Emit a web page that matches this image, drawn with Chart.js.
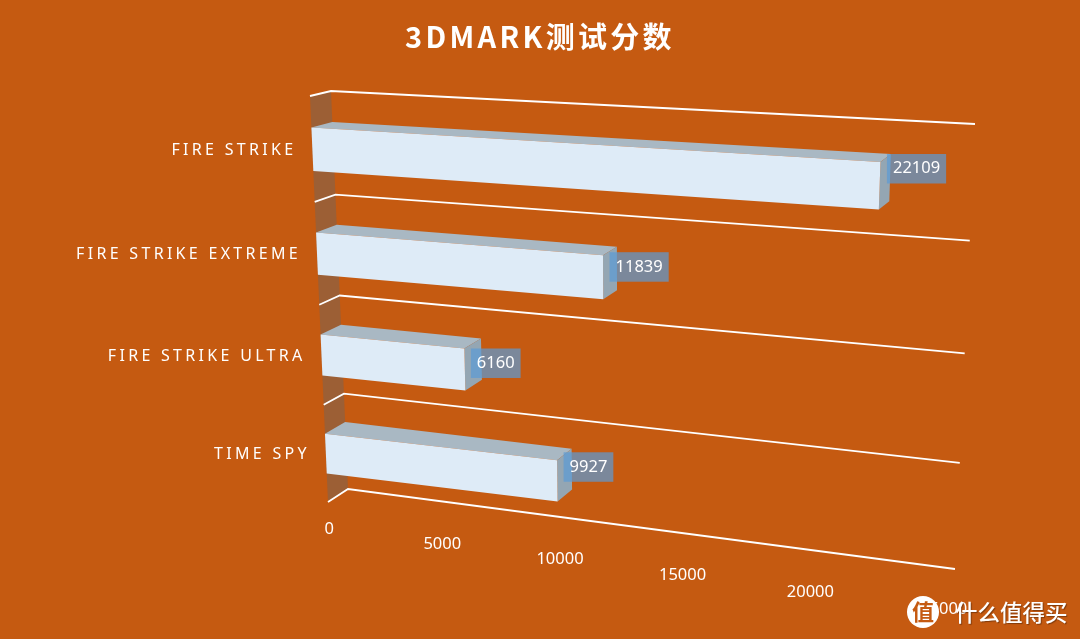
<!DOCTYPE html>
<html>
<head>
  <meta charset="UTF-8">
  <title>3DMARK测试分数</title>
  <script src="https://cdn.jsdelivr.net/npm/chart.js"></script>
  <style>
    html, body { margin: 0; background: #C55A11; overflow: hidden; }
    canvas { display: block; }
  </style>
</head>
<body>
  <canvas id="barChart" width="1080" height="639"></canvas>

  <script>
    const chartTitle = '3DMARK测试分数';
    const categories = ['FIRE STRIKE', 'FIRE STRIKE EXTREME', 'FIRE STRIKE ULTRA', 'TIME SPY'];
    const scores = [22109, 11839, 6160, 9927];
    const axisMax = 25000;
    const axisStep = 5000;

    const white = '#FFFFFF';
    const labelFont = '"Noto Sans", sans-serif';
    // how far each value box sits above the bar's front top corner
    const labelNudge = [-8, -3, 0, -8];

    // the flat plot area is pushed through two perspective planes (front and back of the box)
    const frontPlane = makeHomography([[310, 96], [965, 132], [945, 580], [328, 502]]);
    const backPlane = makeHomography([[331, 91], [975, 124], [955, 569], [348, 489]]);

    function makeHomography(q) {
      const [[x0, y0], [x1, y1], [x2, y2], [x3, y3]] = q;
      const dx1 = x1 - x2, dx2 = x3 - x2, sx = x0 - x1 + x2 - x3;
      const dy1 = y1 - y2, dy2 = y3 - y2, sy = y0 - y1 + y2 - y3;
      const den = dx1 * dy2 - dx2 * dy1;
      const g = (sx * dy2 - dx2 * sy) / den;
      const h = (dx1 * sy - sx * dy1) / den;
      const a = x1 - x0 + g * x1, b = x3 - x0 + h * x3;
      const d = y1 - y0 + g * y1, e = y3 - y0 + h * y3;
      return (u, v) => {
        const w = g * u + h * v + 1;
        return [(a * u + b * v + x0) / w, (d * u + e * v + y0) / w];
      };
    }

    // pixel of the hidden flat chart -> pixel on the picture, depth 0 = front, 1 = back
    function project(chart, px, py, depth) {
      const area = chart.chartArea;
      const u = (px - area.left) / (area.right - area.left);
      const v = (py - area.top) / (area.bottom - area.top);
      const f = frontPlane(u, v);
      const b = backPlane(u, v);
      return [f[0] + (b[0] - f[0]) * depth, f[1] + (b[1] - f[1]) * depth];
    }

    function fillPoly(ctx, pts, color) {
      ctx.beginPath();
      pts.forEach((p, i) => i ? ctx.lineTo(p[0], p[1]) : ctx.moveTo(p[0], p[1]));
      ctx.closePath();
      ctx.fillStyle = color;
      ctx.fill();
    }

    const perspective3d = {
      id: 'perspective3d',

      beforeDraw(chart) {
        // the title box is drawn by the library right after this, it only needs the spacing
        chart.ctx.letterSpacing = '3.3px';
      },

      beforeDatasetsDraw(chart) {
        const { ctx, chartArea: area, scales: { y } } = chart;
        ctx.letterSpacing = '0px';

        // side wall
        fillPoly(ctx, [
          project(chart, area.left, area.top, 0),
          project(chart, area.left, area.top, 1),
          project(chart, area.left, area.bottom, 1),
          project(chart, area.left, area.bottom, 0)
        ], '#9C5F35');

        // one line per category boundary
        const band = y.getPixelForValue(1) - y.getPixelForValue(0);
        ctx.strokeStyle = white;
        ctx.lineWidth = 1.8;
        for (let i = 0; i <= categories.length; i++) {
          const py = y.getPixelForValue(0) - band / 2 + i * band;
          const a = project(chart, area.left, py, 0);
          const b = project(chart, area.left, py, 1);
          const c = project(chart, area.right, py, 1);
          ctx.beginPath();
          ctx.moveTo(a[0], a[1]);
          ctx.lineTo(b[0], b[1]);
          ctx.lineTo(c[0], c[1]);
          ctx.stroke();
        }
      },

      afterDatasetsDraw(chart) {
        const { ctx, chartArea: area, scales: { x, y } } = chart;
        const bars = chart.getDatasetMeta(0).data;

        bars.forEach(bar => {
          const { x: end, y: mid, base, height } = bar.getProps(['x', 'y', 'base', 'height']);
          const top = mid - height / 2, bottom = mid + height / 2;
          fillPoly(ctx, [
            project(chart, base, top, 0), project(chart, end, top, 0),
            project(chart, end, top, 1), project(chart, base, top, 1)
          ], '#A9B8C3');
          fillPoly(ctx, [
            project(chart, end, top, 0), project(chart, end, top, 1),
            project(chart, end, bottom, 1), project(chart, end, bottom, 0)
          ], '#94A6B3');
          fillPoly(ctx, [
            project(chart, base, top, 0), project(chart, end, top, 0),
            project(chart, end, bottom, 0), project(chart, base, bottom, 0)
          ], '#DEEBF7');
        });

        // value labels
        ctx.font = '16.5px ' + labelFont;
        ctx.textBaseline = 'middle';
        ctx.textAlign = 'center';
        bars.forEach((bar, i) => {
          const { x: end, y: mid, height } = bar.getProps(['x', 'y', 'height']);
          const corner = project(chart, end, mid - height / 2, 0);
          const text = String(scores[i]);
          const w = ctx.measureText(text).width + 12;
          const h = 29.5;
          const left = corner[0] + 6.5;
          const boxTop = corner[1] + labelNudge[i];
          ctx.fillStyle = 'rgba(91,155,213,0.7)';
          ctx.fillRect(left, boxTop, w, h);
          ctx.fillStyle = white;
          ctx.fillText(text, left + w / 2, boxTop + h / 2);
        });

        // value axis labels, under the floor of the box
        x.ticks.forEach(t => {
          const p = project(chart, x.getPixelForValue(t.value), area.bottom + (area.bottom - area.top) * 0.071, 0);
          ctx.fillStyle = white;
          ctx.fillText(String(t.value), p[0], p[1]);
        });

        // category labels
        ctx.font = '16px ' + labelFont;
        ctx.letterSpacing = '3.3px';
        ctx.textAlign = 'right';
        categories.forEach((name, i) => {
          const p = project(chart, area.left, y.getPixelForValue(i), 0);
          ctx.fillStyle = white;
          ctx.fillText(name, p[0] - 16, p[1] + 1);
        });
        ctx.letterSpacing = '0px';
      },

      afterDraw(chart) {
        // site watermark
        const { ctx } = chart;
        ctx.fillStyle = white;
        ctx.beginPath();
        ctx.arc(923, 612, 16, 0, Math.PI * 2);
        ctx.fill();
        ctx.textBaseline = 'middle';
        ctx.textAlign = 'center';
        ctx.font = 'bold 22px "Noto Sans CJK SC"';
        ctx.fillStyle = '#C55A11';
        ctx.fillText('值', 923, 612);
        ctx.textAlign = 'left';
        ctx.font = '500 22.5px "Noto Sans CJK SC"';
        ctx.fillStyle = white;
        ctx.shadowColor = 'rgba(0,0,0,0.35)';
        ctx.shadowOffsetX = 1;
        ctx.shadowOffsetY = 1;
        ctx.shadowBlur = 1;
        ctx.fillText('什么值得买', 955, 612);
        ctx.shadowColor = 'transparent';
      }
    };

    new Chart(document.getElementById('barChart').getContext('2d'), {
      type: 'bar',
      data: {
        labels: categories,
        datasets: [{
          label: '3DMARK',
          data: scores,
          backgroundColor: 'transparent',
          barPercentage: 0.41,
          categoryPercentage: 1
        }]
      },
      options: {
        indexAxis: 'y',
        responsive: false,
        animation: false,
        devicePixelRatio: 1,
        scales: {
          x: { display: false, min: 0, max: axisMax, ticks: { stepSize: axisStep } },
          y: { display: false }
        },
        plugins: {
          legend: { display: false },
          tooltip: { enabled: false },
          title: {
            display: true,
            text: chartTitle,
            color: white,
            font: { family: '"Noto Sans CJK SC", sans-serif', size: 29, weight: 'bold' },
            padding: { top: 20, bottom: 10 }
          }
        }
      },
      plugins: [perspective3d]
    });
  </script>
</body>
</html>
